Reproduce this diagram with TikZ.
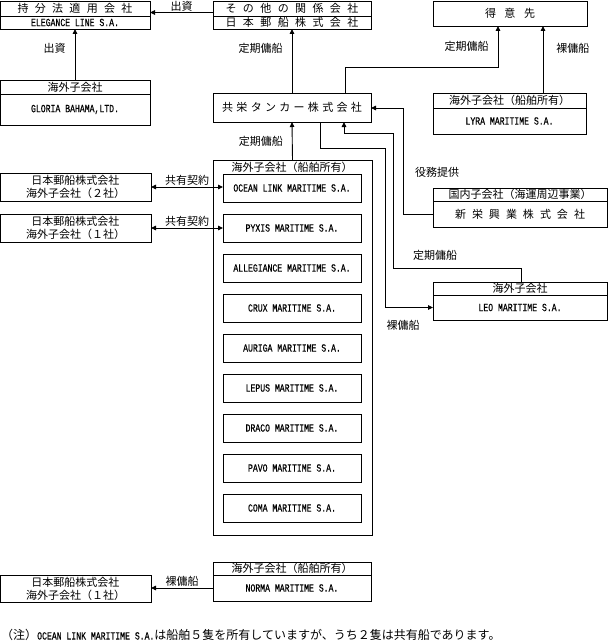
\documentclass[tikz,border=0pt]{standalone}
\usepackage{fontspec}
\setmainfont{Liberation Serif}
\newfontfamily\jp{Noto Sans CJK JP}
\newfontfamily\latn[FakeStretch=0.74, FakeBold=0.5]{Liberation Mono}
\usetikzlibrary{positioning}
\usetikzlibrary{calc}
\usetikzlibrary{arrows.meta}

\newcommand{\jpsize}{\jp\fontsize{11}{13}\selectfont}
\newcommand{\latnsize}{\latn\fontsize{11}{12}\selectfont}

\tikzset{
  box/.style={draw, line width=0.7pt, inner sep=0pt, outer sep=0pt, align=center, font=\jpsize},
  latin/.style={font=\latnsize},
  spread/.style={font={\jpsize\spaceskip=#1pt\relax}},
  ship/.style={box, latin, minimum width=138, minimum height=28},
  conn/.style={line width=0.9pt, ->},
  lbl/.style={font=\jpsize, inner sep=1pt}
}

\begin{document}
\begin{tikzpicture}[x=1pt, y=-1pt, >={Triangle[length=5pt,width=4.5pt]}]
            \useasboundingbox (0,0) rectangle (608,642);

            % Top row
            \node[box, spread=6.3, minimum width=150, minimum height=15] (eqhdr) at (75,8.5) {持 分 法 適 用 会 社};
            \node[box, latin, minimum width=150, minimum height=13, below=0pt of eqhdr] (eq) {ELEGANCE LINE S.A.};

            \node[box, spread=6.4, minimum width=158, minimum height=15] (parhdr) at (292,8.5) {そ の 他 の 関 係 会 社};
            \node[box, spread=6.4, minimum width=158, minimum height=13, below=0pt of parhdr] (par) {日 本 郵 船 株 式 会 社};

            \node[box, spread=8.5, minimum width=154, minimum height=25] (cli) at (510,13.5) {得 意 先};

            % Second row
            \node[box, minimum width=150, minimum height=14] (glhdr) at (75,87) {海外子会社};
            \node[box, latin, minimum width=150, minimum height=31, below=0pt of glhdr] (gl) {GLORIA BAHAMA,LTD.};

            \node[box, spread=3.3, minimum width=158, minimum height=29] (kyoei) at (292,107.5) {共 栄 タ ン カ ー 株 式 会 社};

            \node[box, minimum width=153, minimum height=15] (lyhdr) at (509.5,100.5) {海外子会社（船舶所有）};
            \node[box, latin, minimum width=153, minimum height=26, below=0pt of lyhdr] (ly) {LYRA MARITIME S.A.};

            % Ship-owning group
            \node[box, minimum width=159, minimum height=375] (grp) at (292.5,347.5) {};
            \node[lbl] (grphdr) at (292,167) {海外子会社（船舶所有）};
            \foreach \name [count=\i] in {OCEAN LINK,PYXIS,ALLEGIANCE,CRUX,AURIGA,LEPUS,DRACO,PAVO,COMA} {
                \node[ship] (s\i) at (292,148+40*\i) {\name\ MARITIME S.A.};
            }

            % Co-ownership partners
            \node[box, minimum width=151, minimum height=28] (jv2) at (75.5,187) {日本郵船株式会社\\海外子会社（２社）};
            \node[box, minimum width=151, minimum height=28] (jv1) at (75.5,228) {日本郵船株式会社\\海外子会社（１社）};

            % Right side
            \node[box, minimum width=174, minimum height=13] (shhdr) at (520,194.5) {国内子会社（海運周辺事業）};
            \node[box, spread=6, minimum width=174, minimum height=26, below=0pt of shhdr] (sh) {新 栄 興 業 株 式 会 社};

            \node[box, minimum width=174, minimum height=13] (leohdr) at (520,288.5) {海外子会社};
            \node[box, latin, minimum width=174, minimum height=25, below=0pt of leohdr] (leo) {LEO MARITIME S.A.};

            % Bottom
            \node[box, minimum width=158, minimum height=13] (nohdr) at (292,568.5) {海外子会社（船舶所有）};
            \node[box, latin, minimum width=158, minimum height=26, below=0pt of nohdr] (no) {NORMA MARITIME S.A.};
            \node[box, minimum width=151, minimum height=27] (jvb) at (75.5,588.5) {日本郵船株式会社\\海外子会社（１社）};

            \node[lbl, anchor=west, font=\jp\fontsize{12}{14}\selectfont] (note) at (0,635) {（注）{\latnsize OCEAN LINK MARITIME S.A.}は船舶５隻を所有していますが、うち２隻は共有船であります。};

            % Connectors
            \draw[conn] ([yshift=3.5pt]parhdr.south west) -- node[lbl, above] {出資} ([yshift=3.5pt]eqhdr.south east);
            \draw[conn] (glhdr.north) -- node[lbl, pos=0.63, left=8pt] {出資} (eq.south);
            \draw[conn] (kyoei.north) -- node[lbl, pos=0.69, left=8pt] {定期傭船} (par.south);
            \draw[conn] (grp.north) -- node[lbl, left=8pt] {定期傭船} (kyoei.south);

            \coordinate (kcbend) at (345,67);
            \draw[conn] (kcbend |- kyoei.north) -- (kcbend) -| node[lbl, pos=0.75, left=8pt] {定期傭船} ([xshift=-12pt]cli.south);
            \draw[conn] ([xshift=33.5pt]lyhdr.north) -- node[lbl, pos=0.67, right=12pt] {裸傭船} ([xshift=33.5pt]lyhdr.north |- cli.south);

            \coordinate (svc) at (403,108);
            \draw[conn] (sh.west) -| (svc) -- (svc -| kyoei.east);
            \node[lbl] (svclbl) at (437,172) {役務提供};

            \coordinate (tb1) at (393,268);
            \coordinate (tb2) at (344,133);
            \draw[conn] ([xshift=1pt]leohdr.north) |- (tb1) |- (tb2) -- (tb2 |- kyoei.south);
            \node[lbl] (tclbl) at (435,255) {定期傭船};

            \coordinate (bb1) at (320,148);
            \coordinate (bb2) at (385,148);
            \draw[conn] (bb1 |- kyoei.south) -- (bb1) -- (bb2) |- (leo.west);
            \node[lbl] (bblbl) at (403,325) {裸傭船};

            \draw[conn, <->] (jv2.east) -- node[lbl, above] {共有契約} (jv2.east -| s1.west);
            \draw[conn, <->] (jv1.east) -- node[lbl, above] {共有契約} (jv1.east -| s2.west);
            \draw[conn] (no.west) -- node[lbl, above] {裸傭船} (no.west -| jvb.east);
        \end{tikzpicture}
\end{document}
